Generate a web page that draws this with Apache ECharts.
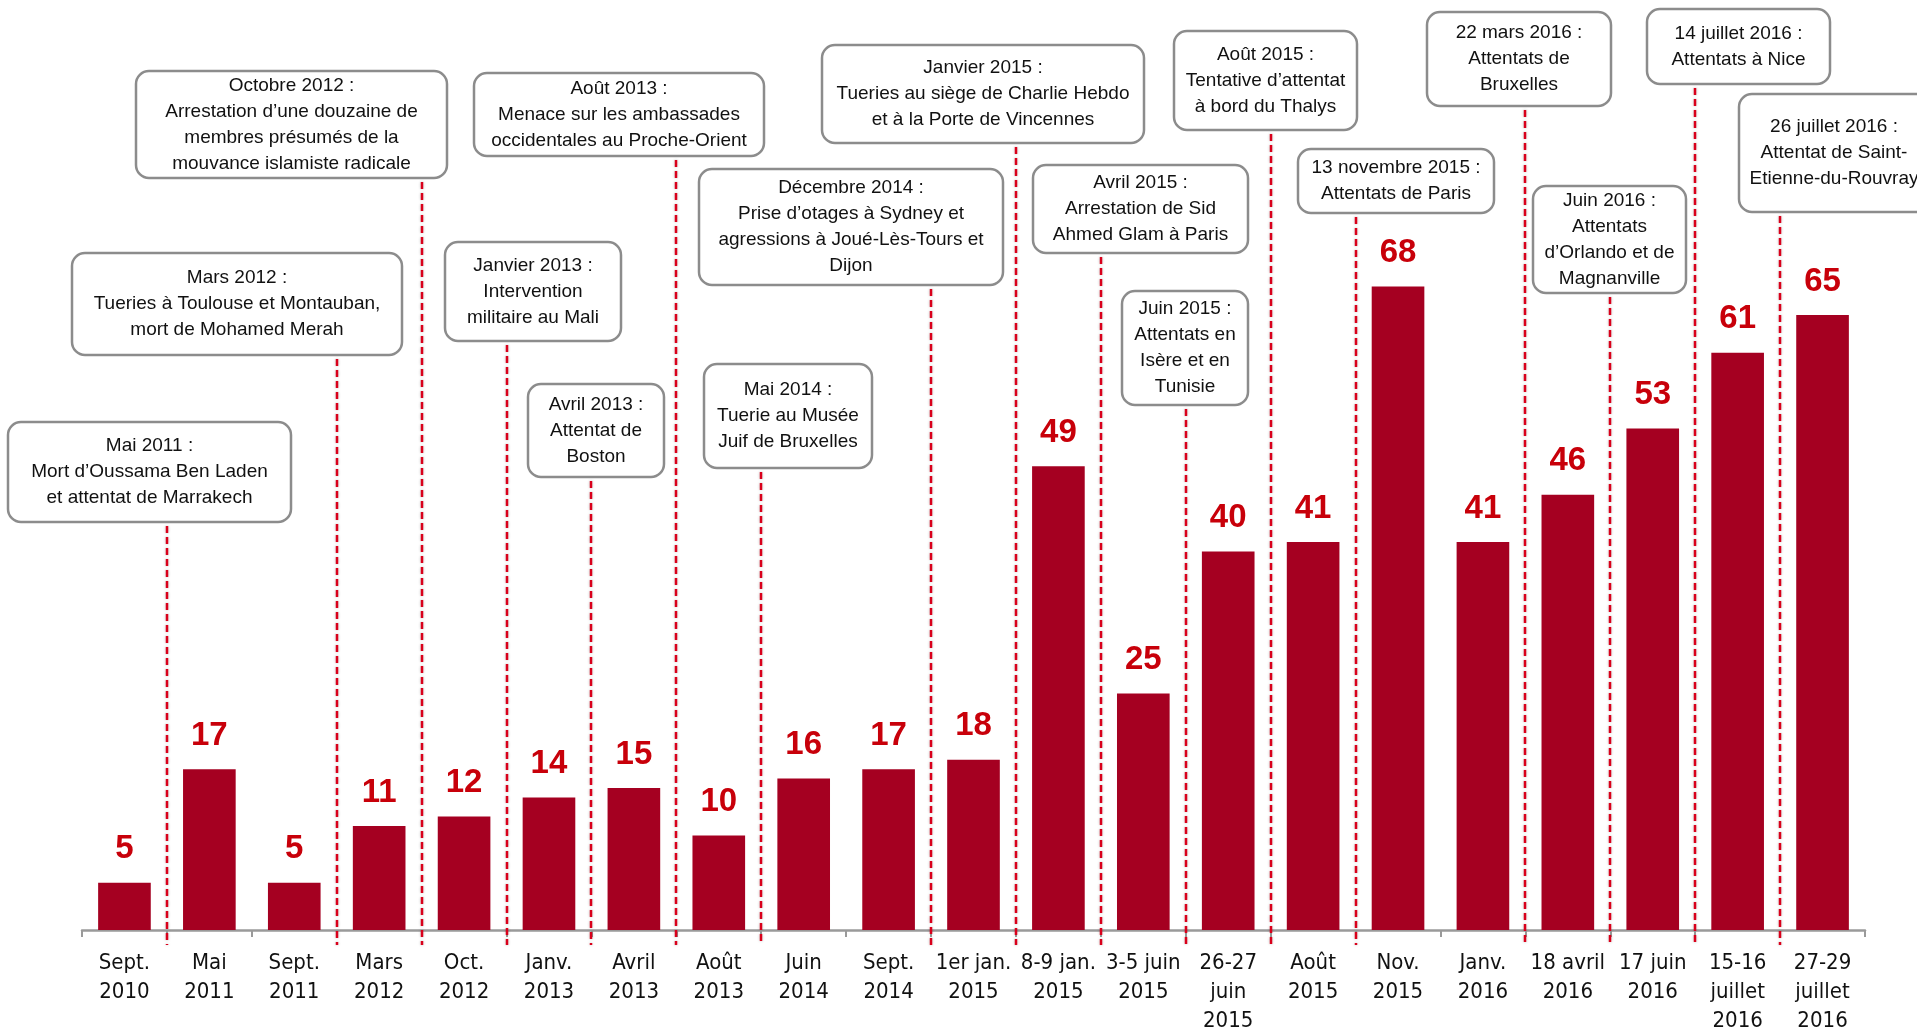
<!DOCTYPE html>
<html lang="fr">
<head>
<meta charset="utf-8">
<title>Attentats</title>
<style>
  html, body { margin: 0; padding: 0; background: #fff; }
  #chart { width: 1917px; height: 1030px; }
</style>
</head>
<body>
<div id="chart"></div>
<script src="https://cdn.jsdelivr.net/npm/echarts@6/dist/echarts.min.js"></script>
<script>
// categories (x axis) and bar values
var categories = [
  'Sept.\n2010', 'Mai\n2011', 'Sept.\n2011', 'Mars\n2012', 'Oct.\n2012', 'Janv.\n2013',
  'Avril\n2013', 'Août\n2013', 'Juin\n2014', 'Sept.\n2014', '1er jan.\n2015', '8-9 jan.\n2015',
  '3-5 juin\n2015', '26-27\njuin\n2015', 'Août\n2015', 'Nov.\n2015', 'Janv.\n2016',
  '18 avril\n2016', '17 juin\n2016', '15-16\njuillet\n2016', '27-29\njuillet\n2016'
];
var values = [5, 17, 5, 11, 12, 14, 15, 10, 16, 17, 18, 49, 25, 40, 41, 68, 41, 46, 53, 61, 65];

// event captions, and the category boundary each one points at (after category index)
var eventTexts = [
  'Mai 2011 :\nMort d’Oussama Ben Laden\net attentat de Marrakech',
  'Mars 2012 :\nTueries à Toulouse et Montauban,\nmort de Mohamed Merah',
  'Octobre 2012 :\nArrestation d’une douzaine de\nmembres présumés de la\nmouvance islamiste radicale',
  'Janvier 2013 :\nIntervention\nmilitaire au Mali',
  'Avril 2013 :\nAttentat de\nBoston',
  'Août 2013 :\nMenace sur les ambassades\noccidentales au Proche-Orient',
  'Mai 2014 :\nTuerie au Musée\nJuif de Bruxelles',
  'Décembre 2014 :\nPrise d’otages à Sydney et\nagressions à Joué-Lès-Tours et\nDijon',
  'Janvier 2015 :\nTueries au siège de Charlie Hebdo\net à la Porte de Vincennes',
  'Avril 2015 :\nArrestation de Sid\nAhmed Glam à Paris',
  'Juin 2015 :\nAttentats en\nIsère et en\nTunisie',
  'Août 2015 :\nTentative d’attentat\nà bord du Thalys',
  '13 novembre 2015 :\nAttentats de Paris',
  '22 mars 2016 :\nAttentats de\nBruxelles',
  'Juin 2016 :\nAttentats\nd’Orlando et de\nMagnanville',
  '14 juillet 2016 :\nAttentats à Nice',
  '26 juillet 2016 :\nAttentat de Saint-\nEtienne-du-Rouvray'
];
var eventAfter = [0, 2, 3, 4, 5, 6, 7, 9, 10, 11, 12, 13, 14, 16, 17, 18, 19];

// box layout in pixels: x, y, w, h
var boxes = [
  [8, 422, 283, 100], [72, 253, 330, 102], [136, 71, 311, 107], [445, 242, 176, 99],
  [528, 384, 136, 93], [474, 73, 290, 83], [704, 364, 168, 104], [699, 169, 304, 116],
  [822, 45, 322, 98], [1033, 165, 215, 88], [1122, 291, 126, 114], [1174, 31, 183, 99],
  [1298, 149, 196, 64], [1427, 12, 184, 94], [1533, 186, 153, 107], [1647, 9, 183, 75],
  [1739, 94, 190, 118]
];

var chart = echarts.init(document.getElementById('chart'));
var option = {
  animation: false,
  backgroundColor: '#fff',
  grid: { left: 82, right: 52, top: 173, bottom: 100, outerBoundsMode: 'none', containLabel: false },
  xAxis: {
    type: 'category',
    data: categories,
    axisLine: { lineStyle: { color: '#9a9a9a', width: 2.5 } },
    axisTick: { show: true, length: 7, lineStyle: { color: '#9a9a9a', width: 2 } },
    axisLabel: {
      interval: 0,
      margin: 19,
      color: '#111',
      fontSize: 22,
      lineHeight: 29,
      fontFamily: '"Liberation Sans Narrow", "DejaVu Sans Condensed", sans-serif'
    }
  },
  yAxis: {
    type: 'value',
    min: 0,
    max: 80,
    show: false,
    splitLine: { show: false }
  },
  series: [{
    type: 'bar',
    data: values,
    barCategoryGap: '38%',
    itemStyle: { color: '#A50021' },
    label: {
      show: true,
      position: 'top',
      distance: 17,
      color: '#C8000A',
      fontSize: 33,
      fontWeight: 'bold',
      fontFamily: '"Liberation Sans", Arial, sans-serif'
    }
  }]
};
chart.setOption(option);

// dashed lines + caption boxes
var axisY = chart.convertToPixel({ yAxisIndex: 0 }, 0);
var graphics = [];
eventTexts.forEach(function (txt, i) {
  var b = eventAfter[i];
  var xa = chart.convertToPixel({ xAxisIndex: 0 }, b);
  var xb = chart.convertToPixel({ xAxisIndex: 0 }, b + 1);
  var lx = Math.round((xa + xb) / 2);
  var box = boxes[i];
  graphics.push({
    type: 'line',
    z: 10,
    shape: { x1: lx, y1: box[1] + box[3] + 4, x2: lx, y2: axisY + 15 },
    style: {
      stroke: '#D9001B', lineWidth: 2.5, lineDash: [7, 4],
      shadowBlur: 3, shadowColor: 'rgba(0,0,0,0.25)'
    }
  });
  graphics.push({
    type: 'rect',
    z: 11,
    shape: { x: box[0], y: box[1], width: box[2], height: box[3], r: 13 },
    style: { fill: '#fff', stroke: '#8c8c8c', lineWidth: 2.5 }
  });
  graphics.push({
    type: 'text',
    z: 12,
    style: {
      text: txt,
      x: box[0] + box[2] / 2,
      y: box[1] + box[3] / 2,
      align: 'center',
      verticalAlign: 'middle',
      fill: '#111',
      fontSize: 19,
      lineHeight: 26,
      fontFamily: '"Liberation Sans", Arial, sans-serif'
    }
  });
});
chart.setOption({ graphic: graphics });
</script>
</body>
</html>
